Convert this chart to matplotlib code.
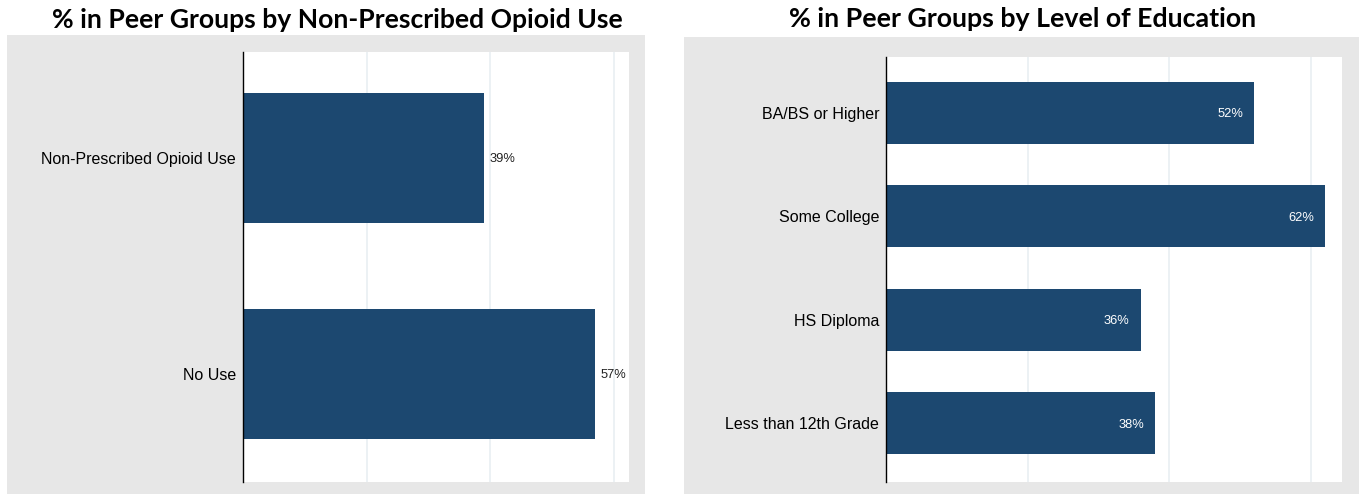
import matplotlib
matplotlib.use("Agg")
import matplotlib.pyplot as plt
from matplotlib.patches import Rectangle

# opioid-use peer groups (top to bottom)
opioid_groups = ["Non-Prescribed Opioid Use", "No Use"]
opioid_pct = [39, 57]

# education peer groups (top to bottom)
edu_groups = ["BA/BS or Higher", "Some College", "HS Diploma", "Less than 12th Grade"]
edu_pct = [52, 62, 36, 38]

BAR = "#1c4870"
PANEL = "#e7e7e7"
GRID = "#ebf0f3"
W, H = 1362, 496

plt.rcParams["font.family"] = ["Liberation Sans", "DejaVu Sans"]

fig = plt.figure(figsize=(W / 100, H / 100), dpi=100)
fig.patch.set_facecolor("white")


def box(x0, y0, x1, y1):
    # pixel box (top-left origin) -> figure fraction rect
    return [x0 / W, 1 - y1 / H, (x1 - x0) / W, (y1 - y0) / H]


def panel(x0, y0, x1, y1):
    b = box(x0, y0, x1, y1)
    fig.patches.append(Rectangle((b[0], b[1]), b[2], b[3], transform=fig.transFigure,
                                 facecolor=PANEL, edgecolor="none", zorder=-5))


def bar_panel(ax, labels, values, xmax, ylim, inside):
    ypos = list(range(len(labels)))[::-1]
    ax.barh(ypos, values, height=0.6, color=BAR, zorder=2)
    ax.set_xlim(0, xmax)
    ax.set_ylim(*ylim)
    ax.set_xticks([20, 40, 60])
    ax.set_xticklabels([])
    ax.set_yticks(ypos)
    ax.set_yticklabels(labels, fontsize=11.5, va="center_baseline")
    ax.tick_params(length=0, pad=5)
    ax.grid(axis="x", color=GRID, linewidth=1.3, zorder=1)
    for s in ["top", "right", "bottom"]:
        ax.spines[s].set_visible(False)
    ax.spines["left"].set_color("black")
    ax.spines["left"].set_linewidth(1)
    for y, v in zip(ypos, values):
        if inside:
            ax.annotate(f"{v}%", (v, y), xytext=(-8, 0), textcoords="offset points",
                        ha="right", va="center_baseline", color="white", fontsize=9.3)
        else:
            ax.annotate(f"{v}%", (v, y), xytext=(4, 0), textcoords="offset points",
                        ha="left", va="center_baseline", color="#222222", fontsize=9.3)


panel(7, 35, 645, 494)
panel(684, 37, 1359, 494)

ax1 = fig.add_axes(box(243, 52, 629, 482))
bar_panel(ax1, opioid_groups, opioid_pct, 62.5, (-0.5, 1.49), inside=False)

ax2 = fig.add_axes(box(886, 57, 1342, 482))
bar_panel(ax2, edu_groups, edu_pct, 64.4, (-0.57, 3.54), inside=True)

title_font = dict(family=["Lato", "DejaVu Sans"], weight="bold", ha="center", va="baseline")
fig.text(337.5 / W, 1 - 28 / H, "% in Peer Groups by Non-Prescribed Opioid Use",
         fontsize=19.1, **title_font)
fig.text(1023 / W, 1 - 27 / H, "% in Peer Groups by Level of Education",
         fontsize=19.3, **title_font)

fig.savefig("out.png", dpi=100, facecolor="white")
